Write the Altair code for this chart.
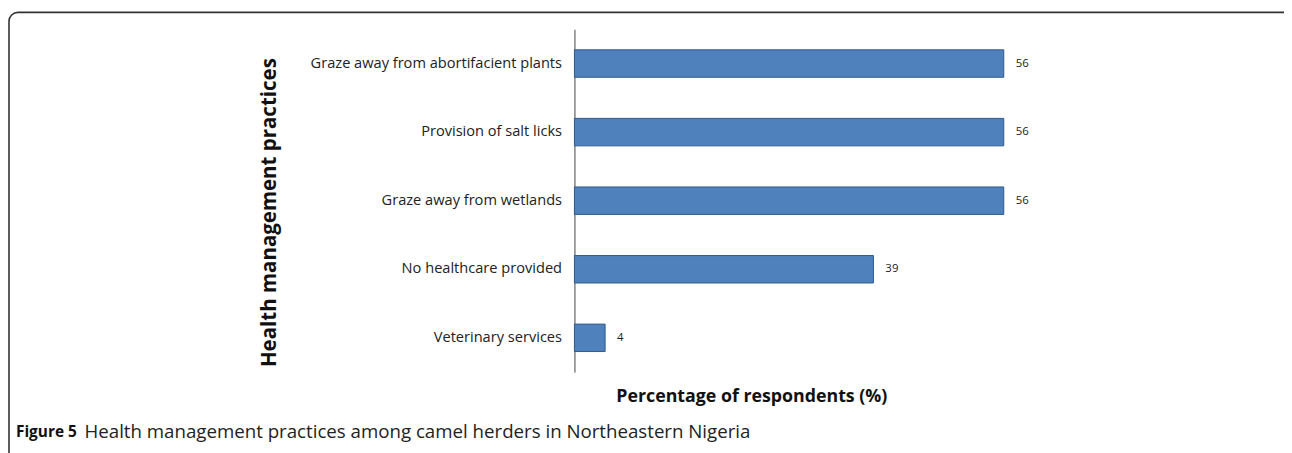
import altair as alt
import pandas as pd

practices = [
    "Graze away from abortifacient plants",
    "Provision of salt licks",
    "Graze away from wetlands",
    "No healthcare provided",
    "Veterinary services",
]
percentages = [56, 56, 56, 39, 4]

df = pd.DataFrame({"practice": practices, "pct": percentages})

W, H = 540, 345
PAD_L, PAD_T = 570, 20
PAD_R = 1284 - PAD_L - W
PAD_B = 445 - PAD_T - H
X0 = 575  # page x of plot origin (approx.)

LFONT = "Open Sans"

y_enc = alt.Y(
    "practice:N",
    sort=practices,
    scale=alt.Scale(paddingInner=0.6, paddingOuter=0.3),
    axis=alt.Axis(
        title="Health management practices",
        domain=True, domainColor="#444444", domainWidth=1,
        ticks=False, grid=False,
        labelPadding=13, labelFontSize=14.7, labelFont=LFONT, labelColor="#222222",
        labelLimit=500,
        titleFont=LFONT, titleFontSize=20.6, titleFontWeight="bold", titleColor="#111111",
        titleAngle=270, titleX=268 - X0, titleY=212 - 28, titleAlign="center", titleBaseline="middle",
    ),
)

x_enc = alt.X(
    "pct:Q",
    scale=alt.Scale(domain=[0, 70], nice=False),
    axis=alt.Axis(
        title="Percentage of respondents (%)",
        domain=False, ticks=False, labels=False, grid=False,
        titleFont=LFONT, titleFontSize=17.9, titleFontWeight="bold", titleColor="#111111",
        titleX=753 - X0, titleY=25, titleAlign="center", titleBaseline="middle",
    ),
)

base = alt.Chart(df)

bars = base.mark_bar(fill="#4F81BD", stroke="#2E5A8C", strokeWidth=1).encode(x=x_enc, y=y_enc)

labels = base.mark_text(align="left", baseline="middle", dx=12, fontSize=11.5, font=LFONT, color="#222222").encode(
    x="pct:Q", y=alt.Y("practice:N", sort=practices), text="pct:Q"
)

one = alt.Data(values=[{"a": 1}])

frame = alt.Chart(one).mark_rect(fillOpacity=0, stroke="#333333", strokeWidth=1.6, cornerRadius=9).encode(
    x=alt.value(-569), x2=alt.value(W + 200), y=alt.value(-17), y2=alt.value(H + 120)
)

cap1 = alt.Chart(one).mark_text(
    text="Figure 5", align="left", baseline="middle", font=LFONT, fontWeight="bold", fontSize=15.5, color="#111111"
).encode(x=alt.value(13 - X0), y=alt.value(433 - 28))

cap2 = alt.Chart(one).mark_text(
    text="Health management practices among camel herders in Northeastern Nigeria",
    align="left", baseline="middle", font=LFONT, fontSize=18.8, color="#222222"
).encode(x=alt.value(82 - X0), y=alt.value(433 - 28))

chart = alt.layer(frame, bars, labels, cap1, cap2).properties(
    width=W, height=H,
    padding={"left": PAD_L, "top": PAD_T, "right": PAD_R, "bottom": PAD_B},
    autosize=alt.AutoSizeParams(type="none"),
    background="white",
).configure_view(stroke=None)

chart.save("out.html", embed_options={"renderer": "svg", "actions": False})
